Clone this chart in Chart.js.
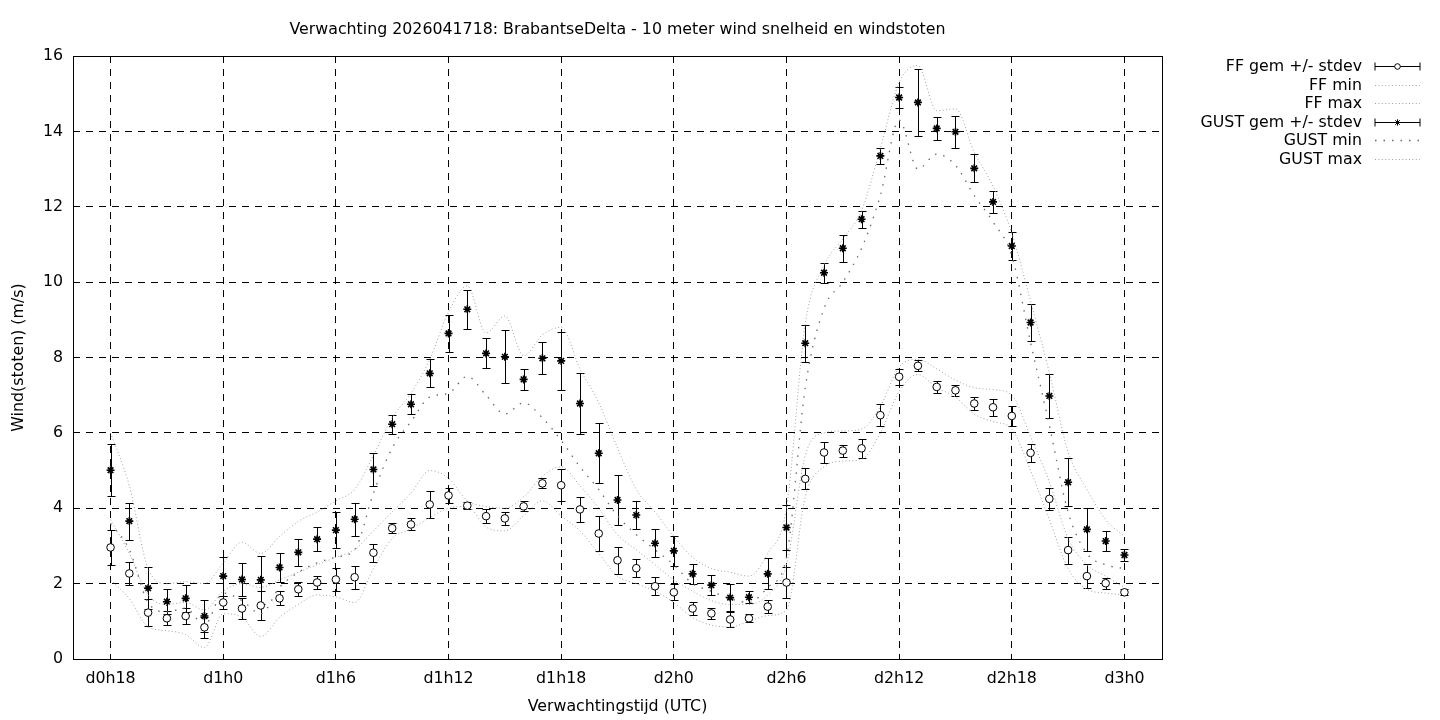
<!DOCTYPE html>
<html>
<head>
<meta charset="utf-8">
<title>BrabantseDelta wind</title>
<script src="https://cdn.jsdelivr.net/npm/chart.js@4.4.1/dist/chart.umd.min.js"></script>
<style>
    html, body { margin: 0; padding: 0; background: #fff; }
</style>
</head>
<body>
<canvas id="wind_chart" width="1440" height="720"></canvas>
<script>
// forecast hour (counted from d0h0)
var hours = [18, 19, 20, 21, 22, 23, 24, 25, 26, 27, 28, 29, 30, 31, 32, 33, 34, 35, 36,
    37, 38, 39, 40, 41, 42, 43, 44, 45, 46, 47, 48, 49, 50, 51, 52, 53, 54, 55,
    56, 57, 58, 59, 60, 61, 62, 63, 64, 65, 66, 67, 68, 69, 70, 71, 72];

var tickHours = [18, 24, 30, 36, 42, 48, 54, 60, 66, 72];
var tickLabels = ["d0h18", "d1h0", "d1h6", "d1h12", "d1h18", "d2h0", "d2h6", "d2h12", "d2h18", "d3h0"];

var ffMean = [2.96, 2.27, 1.23, 1.08, 1.14, 0.84, 1.50, 1.34, 1.42, 1.61, 1.85, 2.03, 2.11, 2.17, 2.82,
    3.47, 3.57, 4.10, 4.34, 4.07, 3.79, 3.73, 4.05, 4.66, 4.61, 3.97, 3.33, 2.62, 2.41, 1.93, 1.77,
    1.34, 1.21, 1.05, 1.08, 1.39, 2.03, 4.78, 5.48, 5.53, 5.59, 6.47, 7.49, 7.78, 7.22, 7.13, 6.78,
    6.68, 6.45, 5.47, 4.25, 2.89, 2.20, 2.01, 1.77];
var ffStdev = [0.47, 0.30, 0.36, 0.19, 0.22, 0.27, 0.17, 0.28, 0.39, 0.19, 0.19, 0.18, 0.31, 0.30, 0.24,
    0.13, 0.16, 0.37, 0.21, 0.10, 0.18, 0.17, 0.13, 0.13, 0.42, 0.34, 0.47, 0.36, 0.24, 0.24, 0.21,
    0.17, 0.15, 0.20, 0.11, 0.17, 0.42, 0.28, 0.27, 0.16, 0.25, 0.30, 0.21, 0.15, 0.15, 0.14, 0.17,
    0.23, 0.26, 0.24, 0.30, 0.36, 0.31, 0.15, 0.08];
var ffMin = [2.1, 1.6, 0.85, 0.75, 0.65, 0.3, 1.2, 1.1, 0.6, 1.1, 1.45, 1.7, 1.65, 1.5, 2.4,
    3.2, 3.45, 3.75, 4.0, 4.05, 3.5, 3.4, 3.8, 4.2, 3.8, 3.4, 2.8, 2.2, 2.0, 1.8, 1.5,
    1.1, 0.9, 0.85, 1.0, 1.15, 1.3, 4.3, 5.1, 5.25, 5.3, 6.0, 7.1, 7.55, 7.2, 6.95, 6.5,
    6.3, 6.1, 5.0, 3.7, 2.4, 1.85, 1.75, 1.7];
var ffMax = [3.7, 2.8, 1.7, 1.45, 1.5, 1.3, 1.8, 2.0, 1.9, 2.1, 2.3, 2.5, 2.7, 2.9, 3.4,
    3.9, 4.4, 5.0, 4.8, 4.2, 4.05, 4.0, 4.3, 4.85, 5.1, 4.6, 4.0, 3.3, 2.9, 2.5, 2.1,
    1.8, 1.55, 1.45, 1.45, 1.7, 2.5, 5.4, 6.0, 6.05, 6.1, 6.7, 7.75, 7.95, 7.7, 7.4, 7.2,
    7.15, 7.0, 5.9, 4.7, 3.2, 2.5, 2.2, 1.9];

var gustMean = [5.01, 3.66, 1.88, 1.52, 1.61, 1.14, 2.20, 2.11, 2.10, 2.43, 2.83, 3.18, 3.42, 3.71, 5.03,
    6.23, 6.76, 7.58, 8.64, 9.28, 8.11, 8.02, 7.42, 7.98, 7.91, 6.78, 5.46, 4.22, 3.82, 3.07, 2.87,
    2.26, 1.96, 1.63, 1.64, 2.26, 3.49, 8.38, 10.25, 10.90, 11.67, 13.35, 14.90, 14.77, 14.08, 13.99, 13.02,
    12.13, 10.96, 8.93, 6.98, 4.69, 3.44, 3.13, 2.76];
var gustStdev = [0.69, 0.49, 0.55, 0.33, 0.35, 0.42, 0.52, 0.44, 0.63, 0.38, 0.36, 0.32, 0.47, 0.44, 0.44,
    0.25, 0.26, 0.37, 0.48, 0.52, 0.40, 0.70, 0.28, 0.42, 0.76, 0.80, 0.80, 0.66, 0.37, 0.37, 0.39,
    0.26, 0.27, 0.35, 0.16, 0.41, 0.60, 0.49, 0.27, 0.36, 0.22, 0.22, 0.28, 0.89, 0.30, 0.43, 0.37,
    0.29, 0.37, 0.48, 0.58, 0.64, 0.57, 0.26, 0.17];
var gustMin = [3.6, 2.9, 1.5, 1.25, 1.35, 0.9, 1.75, 1.55, 1.2, 1.9, 2.3, 2.55, 2.7, 2.9, 4.4,
    5.6, 6.3, 6.95, 7.05, 7.5, 7.0, 6.5, 6.8, 6.4, 5.8, 5.1, 4.5, 3.8, 3.3, 2.9, 2.5,
    2.0, 1.8, 1.6, 1.5, 1.9, 2.7, 7.2, 9.3, 10.0, 10.9, 12.3, 14.3, 13.0, 13.4, 13.1, 12.3,
    11.6, 10.7, 8.4, 6.2, 3.9, 2.8, 2.5, 2.4];
var gustMax = [6.0, 4.6, 2.4, 2.0, 2.05, 2.0, 2.55, 3.1, 2.8, 3.25, 3.65, 3.9, 4.2, 4.5, 5.4,
    6.4, 7.05, 7.95, 9.2, 9.9, 8.65, 9.1, 8.05, 8.6, 8.8, 7.7, 6.8, 5.6, 4.5, 3.9, 3.25,
    2.7, 2.4, 2.3, 2.2, 2.8, 4.0, 8.9, 10.45, 11.15, 11.9, 13.55, 15.3, 15.75, 14.55, 14.6, 13.45,
    12.55, 11.3, 9.5, 7.6, 5.5, 4.5, 3.7, 3.25];

var FONT = '"DejaVu Sans", sans-serif';
var FONT_SIZE = 15.8;

function pts(values) {
    return hours.map(function (h, i) { return { x: h, y: values[i] }; });
}

function meanSet(label, values, stdev, style) {
    return {
        label: label,
        data: pts(values),
        stdev: stdev,
        showLine: false,
        pointStyle: style,
        pointRadius: style === 'circle' ? 3.8 : 4,
        pointBorderWidth: style === 'circle' ? 1 : 1.6,
        pointBorderColor: '#000',
        pointBackgroundColor: '#fff',
        borderColor: '#000'
    };
}

function rangeSet(label, values, sparse) {
    return {
        label: label,
        data: pts(values),
        borderColor: sparse ? '#6a6a6a' : '#a0a0a0',
        borderWidth: sparse ? 1.3 : 1,
        borderDash: sparse ? [1.5, 7] : [1, 2.4],
        pointRadius: 0,
        cubicInterpolationMode: 'monotone',
        fill: false
    };
}

// no dashed grid line on the frame itself
function gridColor(c) {
    var s = c.scale;
    return (c.tick && (c.tick.value === s.min || c.tick.value === s.max)) ? 'rgba(0,0,0,0)' : '#000';
}

// vertical stdev bars, drawn under the markers
var errorBars = {
    id: 'errorBars',
    beforeDatasetsDraw: function (chart) {
        var ctx = chart.ctx, xs = chart.scales.x, ys = chart.scales.y;
        ctx.save();
        ctx.strokeStyle = '#000';
        ctx.lineWidth = 1;
        chart.data.datasets.forEach(function (ds) {
            if (!ds.stdev) return;
            ds.data.forEach(function (p, i) {
                var x = Math.round(xs.getPixelForValue(p.x)) + 0.5;
                var top = Math.round(ys.getPixelForValue(p.y + ds.stdev[i])) + 0.5;
                var bot = Math.round(ys.getPixelForValue(p.y - ds.stdev[i])) + 0.5;
                ctx.beginPath();
                ctx.moveTo(x, top); ctx.lineTo(x, bot);
                ctx.moveTo(x - 4, top); ctx.lineTo(x + 4, top);
                ctx.moveTo(x - 4, bot); ctx.lineTo(x + 4, bot);
                ctx.stroke();
            });
        });
        ctx.restore();
    }
};

// frame around the plot and the gnuplot style key on the right
var frameAndKey = {
    id: 'frameAndKey',
    afterDraw: function (chart) {
        var ctx = chart.ctx, a = chart.chartArea;
        ctx.save();
        ctx.strokeStyle = '#000';
        ctx.lineWidth = 1;
        ctx.setLineDash([]);
        ctx.strokeRect(Math.round(a.left) + 0.5, Math.round(a.top) + 0.5,
            Math.round(a.right - a.left), Math.round(a.bottom - a.top));

        ctx.font = FONT_SIZE + 'px ' + FONT;
        ctx.textAlign = 'right';
        ctx.textBaseline = 'middle';
        ctx.fillStyle = '#000';
        var x0 = 1375, x1 = 1420;
        chart.data.datasets.forEach(function (ds, i) {
            var y = Math.round(66 + i * 18.5) + 0.5;
            ctx.fillText(ds.label, 1362, y);
            ctx.save();
            ctx.strokeStyle = ds.borderColor;
            ctx.lineWidth = ds.borderWidth || 1;
            ctx.beginPath();
            if (ds.stdev) {
                ctx.moveTo(x0, y); ctx.lineTo(x1, y);
                ctx.moveTo(x0, y - 4); ctx.lineTo(x0, y + 4);
                ctx.moveTo(x1, y - 4); ctx.lineTo(x1, y + 4);
                ctx.stroke();
                ctx.fillStyle = '#fff';
                Chart.helpers.drawPoint(ctx, {
                    pointStyle: ds.pointStyle,
                    radius: ds.pointStyle === 'circle' ? 2.8 : 3.2,
                    borderWidth: 1,
                    rotation: 0
                }, (x0 + x1) / 2, y);
            } else {
                ctx.setLineDash(ds.borderDash);
                ctx.moveTo(x0, y); ctx.lineTo(x1, y);
                ctx.stroke();
            }
            ctx.restore();
        });
        ctx.restore();
    }
};

new Chart(document.getElementById('wind_chart').getContext('2d'), {
    type: 'line',
    data: {
        datasets: [
            meanSet('FF gem +/- stdev', ffMean, ffStdev, 'circle'),
            rangeSet('FF min', ffMin, false),
            rangeSet('FF max', ffMax, false),
            meanSet('GUST gem +/- stdev', gustMean, gustStdev, 'star'),
            rangeSet('GUST min', gustMin, true),
            rangeSet('GUST max', gustMax, false)
        ]
    },
    options: {
        responsive: false,
        animation: false,
        layout: { padding: { left: 0, right: 278, top: 0, bottom: 0 } },
        plugins: {
            legend: { display: false },
            tooltip: { enabled: false },
            title: {
                display: true,
                fullSize: false,
                text: 'Verwachting 2026041718: BrabantseDelta - 10 meter wind snelheid en windstoten',
                color: '#000',
                font: { family: FONT, size: FONT_SIZE, weight: 'normal', lineHeight: 1.2 },
                padding: { top: 20, bottom: 17.1 }
            }
        },
        scales: {
            x: {
                type: 'linear',
                min: 16,
                max: 74,
                afterFit: function (scale) { scale.height = 61; },
                afterBuildTicks: function (scale) {
                    scale.ticks = tickHours.map(function (h) { return { value: h }; });
                },
                ticks: {
                    autoSkip: false,
                    maxRotation: 0,
                    padding: 10,
                    color: '#000',
                    font: { family: FONT, size: FONT_SIZE },
                    callback: function (v) {
                        var i = tickHours.indexOf(v);
                        return i < 0 ? '' : tickLabels[i];
                    }
                },
                grid: { color: gridColor, lineWidth: 1, drawTicks: false },
                border: { display: false, dash: [7, 6] },
                title: {
                    display: true,
                    text: 'Verwachtingstijd (UTC)',
                    color: '#000',
                    font: { family: FONT, size: FONT_SIZE, lineHeight: 1.2 },
                    padding: { top: 0, bottom: 4 }
                }
            },
            y: {
                min: 0,
                max: 16,
                afterFit: function (scale) { scale.width = 73; },
                ticks: {
                    stepSize: 2,
                    padding: 10,
                    color: '#000',
                    font: { family: FONT, size: FONT_SIZE }
                },
                grid: { color: gridColor, lineWidth: 1, drawTicks: false },
                border: { display: false, dash: [7, 6] },
                title: {
                    display: true,
                    text: 'Wind(stoten) (m/s)',
                    color: '#000',
                    font: { family: FONT, size: FONT_SIZE, lineHeight: 1.2 },
                    padding: { top: 9, bottom: 0 }
                }
            }
        }
    },
    plugins: [errorBars, frameAndKey]
});
</script>
</body>
</html>
